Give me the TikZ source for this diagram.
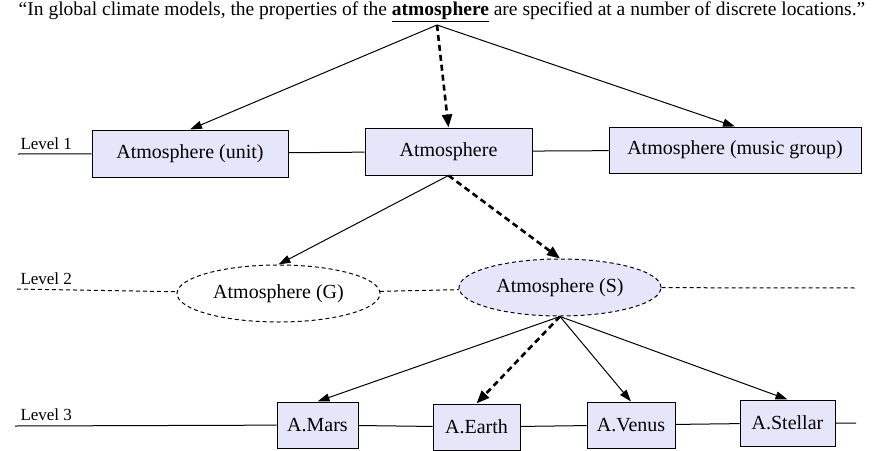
\documentclass[tikz,border=0pt]{standalone}
\usepackage{fontspec}
\setmainfont{Liberation Serif}
\usetikzlibrary{arrows.meta,shapes.geometric}
\definecolor{boxfill}{HTML}{E6E6FA}

\begin{document}
\begin{tikzpicture}[x=1pt,y=-1pt, line width=1pt,
    sense/.style={draw, fill=boxfill, inner sep=0pt, font=\fontsize{20}{22}\selectfont},
    concept/.style={draw, dotline, ellipse, inner sep=0pt, font=\fontsize{20}{22}\selectfont},
    dotline/.style={dash pattern=on 4pt off 3pt},
    lvl/.style={anchor=south west, inner sep=0pt, font=\fontsize{17}{19}\selectfont},
    link/.style={-{Triangle[length=12pt,width=8pt]}},
    chosen/.style={-{Triangle[length=13pt,width=10pt]}, line width=2.6pt, dash pattern=on 6pt off 4pt}]
    \useasboundingbox (0,0) rectangle (872,450);

    \node[inner sep=0pt, font=\fontsize{19.5}{21}\selectfont] (quote) at (442,12) {``In global climate models, the properties of the \underline{\textbf{atmosphere}} are specified at a number of discrete locations.''};
    \coordinate (word) at (437,25);

    % level 1
    \node[sense, minimum width=196pt, minimum height=47pt] (unit) at (190,153.5) {Atmosphere (unit)};
    \node[sense, minimum width=167pt, minimum height=47pt] (atm) at (448.5,151.5) {Atmosphere};
    \node[sense, minimum width=252pt, minimum height=46pt] (music) at (735,150) {Atmosphere (music group)};
    \node[lvl] (lvl1) at (20,150) {Level 1};
    \coordinate (l1start) at (18,154);

    % level 2
    \node[concept, minimum width=203pt, minimum height=57pt] (G) at (278.5,293.5) {Atmosphere (G)};
    \node[concept, fill=boxfill, minimum width=202pt, minimum height=57pt] (S) at (560,287.5) {Atmosphere (S)};
    \node[lvl] (lvl2) at (20,285) {Level 2};
    \coordinate (l2start) at (17,289);
    \coordinate (l2end) at (857,288);

    % level 3
    \node[sense, minimum width=81pt, minimum height=46pt] (mars) at (317.5,425) {A.Mars};
    \node[sense, minimum width=87pt, minimum height=46pt] (earth) at (476.5,427) {A.Earth};
    \node[sense, minimum width=88pt, minimum height=46pt] (venus) at (631,425) {A.Venus};
    \node[sense, minimum width=95pt, minimum height=46pt] (stellar) at (787.5,423) {A.Stellar};
    \node[lvl] (lvl3) at (20,421) {Level 3};
    \coordinate (l3start) at (15,426);
    \coordinate (l3end) at (856,423);

    \draw (l1start) -- (unit) -- (atm) -- (music);
    \draw[dotline] (l2start) -- (G) -- (S) -- (l2end);
    \draw (l3start) -- (mars) -- (earth) -- (venus) -- (stellar) -- (l3end);

    \draw[link] (word) -- (unit.north);
    \draw[chosen] (word) -- (atm.north);
    \draw[link] (word) -- (music.north);
    \draw[link] (atm.south) -- (G.north);
    \draw[chosen] (atm.south) -- (S.north);
    \draw[link] (S.south) -- (mars.north);
    \draw[chosen] (S.south) -- (earth.north);
    \draw[link] (S.south) -- (venus.north);
    \draw[link] (S.south) -- (stellar.north);
\end{tikzpicture}
\end{document}
